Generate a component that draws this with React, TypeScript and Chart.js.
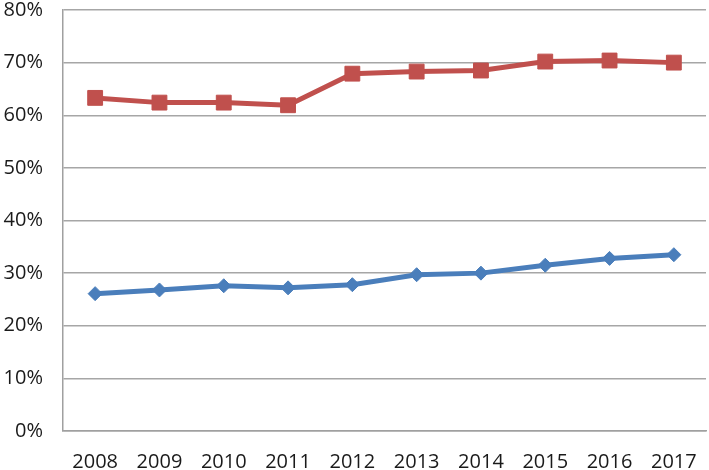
import React, { useEffect, useRef } from "react";
import { Chart, registerables } from "chart.js";

Chart.register(...registerables);

const years = ["2008", "2009", "2010", "2011", "2012", "2013", "2014", "2015", "2016", "2017"];
const redSeries = [63.3, 62.4, 62.4, 61.9, 67.9, 68.3, 68.5, 70.2, 70.4, 70.0];
const blueSeries = [26.1, 26.8, 27.6, 27.2, 27.8, 29.7, 30.0, 31.5, 32.8, 33.5];
const yTicks = [0, 10, 20, 30, 40, 50, 60, 70, 80];

export default function App() {
  const ref = useRef<HTMLCanvasElement | null>(null);
  useEffect(() => {
    if (!ref.current) return;
    const font = { family: "'Open Sans', sans-serif", size: 20 };
    const chart = new Chart(ref.current, {
      type: "line",
      data: {
        labels: years,
        datasets: [
          {
            data: redSeries,
            borderColor: "#C0504D",
            backgroundColor: "#C0504D",
            borderWidth: 5,
            pointStyle: "rect",
            pointRadius: 10.5,
            pointBorderWidth: 1,
            tension: 0,
          },
          {
            data: blueSeries,
            borderColor: "#4A7EBB",
            backgroundColor: "#4A7EBB",
            borderWidth: 5,
            pointStyle: "rectRot",
            pointRadius: 7,
            pointBorderWidth: 1,
            tension: 0,
          },
        ],
      },
      options: {
        animation: false,
        responsive: false,
        maintainAspectRatio: false,
        layout: { autoPadding: false, padding: { top: 10, right: 3, left: 0, bottom: 0 } },
        plugins: { legend: { display: false }, tooltip: { enabled: false } },
        scales: {
          x: {
            offset: true,
            grid: { display: false, drawTicks: false, offset: true },
            border: { display: true, color: "#a0a0a0", width: 1.5 },
            ticks: { color: "#1a1a1a", font, padding: 19, maxRotation: 0 },
            afterFit: (s: any) => {
              s.height = 39;
              s.paddingLeft = 0;
              s.paddingRight = 0;
            },
          },
          y: {
            min: 0,
            max: 80,
            afterBuildTicks: (s: any) => { s.ticks = yTicks.map((v) => ({ value: v })); },
            grid: { color: "#a6a6a6", lineWidth: 1.5, drawTicks: false },
            border: { display: true, color: "#a0a0a0", width: 1.5 },
            ticks: { color: "#1a1a1a", font, padding: 20, callback: (v: any) => v + "%" },
            afterFit: (s: any) => {
              s.width = 63;
              s.paddingTop = 0;
              s.paddingBottom = 0;
            },
          },
        },
      },
    });
    return () => chart.destroy();
  }, []);
  return (
    <div style={{ position: "fixed", left: 0, top: 0, width: 709, height: 470, background: "#fff" }}>
      <canvas ref={ref} width={709} height={470} />
    </div>
  );
}
